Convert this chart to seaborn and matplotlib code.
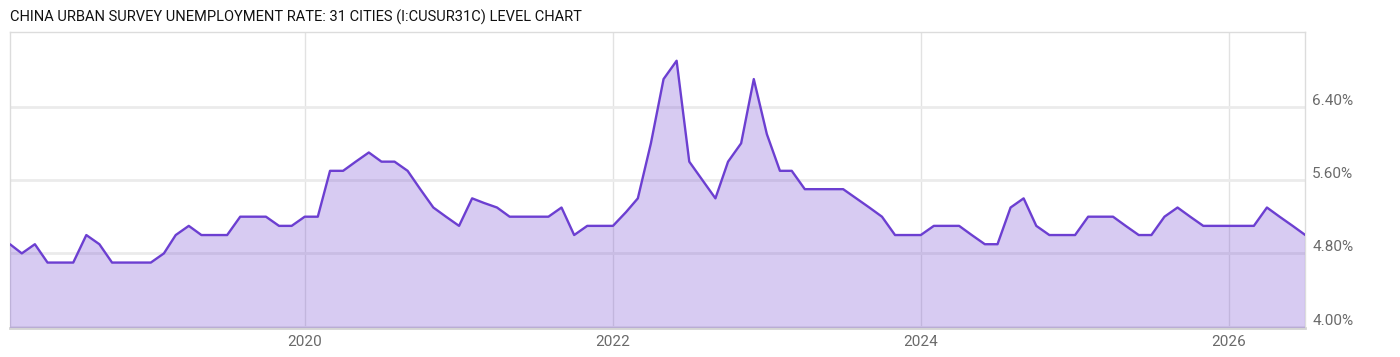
import matplotlib
matplotlib.use("Agg")
import matplotlib.pyplot as plt
import matplotlib.transforms as mtransforms
from matplotlib.ticker import FixedLocator, FuncFormatter
import seaborn as sns
import pandas as pd

# ---- data ----
start_month = "2018-02-01"
rate = [4.9, 4.8, 4.9, 4.7, 4.7, 4.7, 5.0, 4.9, 4.7, 4.7, 4.7, 4.7,
        4.8, 5.0, 5.1, 5.0, 5.0, 5.0, 5.2, 5.2, 5.2, 5.1, 5.1, 5.2,
        5.2, 5.7, 5.7, 5.8, 5.9, 5.8, 5.8, 5.7, 5.5, 5.3, 5.2, 5.1,
        5.4, 5.35, 5.3, 5.2, 5.2, 5.2, 5.2, 5.3, 5.0, 5.1, 5.1, 5.1,
        5.25, 5.4, 6.0, 6.7, 6.9, 5.8, 5.6, 5.4, 5.8, 6.0, 6.7, 6.1,
        5.7, 5.7, 5.5, 5.5, 5.5, 5.5, 5.4, 5.3, 5.2, 5.0, 5.0, 5.0,
        5.1, 5.1, 5.1, 5.0, 4.9, 4.9, 5.3, 5.4, 5.1, 5.0, 5.0, 5.0,
        5.2, 5.2, 5.2, 5.1, 5.0, 5.0, 5.2, 5.3, 5.2, 5.1, 5.1, 5.1,
        5.1, 5.1, 5.3, 5.2, 5.1, 5.0]
y_ticks = [4.00, 4.80, 5.60, 6.40]
x_tick_years = ["2020", "2022", "2024", "2026"]
title = "CHINA URBAN SURVEY UNEMPLOYMENT RATE: 31 CITIES (I:CUSUR31C) LEVEL CHART"

dates = pd.date_range(start_month, periods=len(rate), freq="MS")
df = pd.DataFrame({"date": dates, "rate": rate})

# ---- style ----
sns.set_theme(style="white")
plt.rcParams["font.family"] = ["Roboto", "DejaVu Sans"]

line_color = "#6c3fd1"
grid_color = "#ebebeb"

fig = plt.figure(figsize=(14, 3.57), dpi=100)
ax = fig.add_axes([10 / 1400, 29.3 / 357, 1295.3 / 1400, 295.4 / 357])

ax.fill_between(df["date"], df["rate"], 3.0, color=line_color, alpha=0.265,
                linewidth=0, zorder=3)
sns.lineplot(data=df, x="date", y="rate", ax=ax, color=line_color,
             linewidth=1.7, zorder=4)

ax.set_xlim(dates[0], dates[-1])
ax.set_ylim(3.99, 7.21)

# grid
ax.yaxis.set_major_locator(FixedLocator(y_ticks))
ax.yaxis.set_major_formatter(FuncFormatter(lambda v, p: f"{v:.2f}%"))
xt = [pd.Timestamp(f"{y}-01-01") for y in x_tick_years]
ax.set_xticks(xt)
ax.set_xticklabels(x_tick_years)
ax.grid(True, axis="y", color=grid_color, linewidth=2.0)
ax.grid(True, axis="x", color="#e2e2e2", linewidth=1.0)
for gl in ax.get_ygridlines() + ax.get_xgridlines():
    gl.set_zorder(2)

ax.yaxis.tick_right()
ax.tick_params(axis="y", length=0, pad=5, labelsize=11, labelcolor="#6a6a6a")
ax.tick_params(axis="x", length=0, pad=5, labelsize=11, labelcolor="#6a6a6a")
shift_up = mtransforms.ScaledTranslation(0, 6 / 100, fig.dpi_scale_trans)
for lbl in ax.get_yticklabels():
    lbl.set_verticalalignment("center")
    lbl.set_transform(lbl.get_transform() + shift_up)

ax.set_xlabel("")
ax.set_ylabel("")

for side in ["left", "right", "top"]:
    ax.spines[side].set_color("#dcdcdc")
    ax.spines[side].set_linewidth(1.0)
ax.spines["bottom"].set_color("#d4d4d4")
ax.spines["bottom"].set_linewidth(2.0)

fig.text(10 / 1400, 1 - 17 / 357, title, ha="left", va="center",
         fontsize=10.5, color="#111111")

fig.savefig("out.png", dpi=100, facecolor="white")
